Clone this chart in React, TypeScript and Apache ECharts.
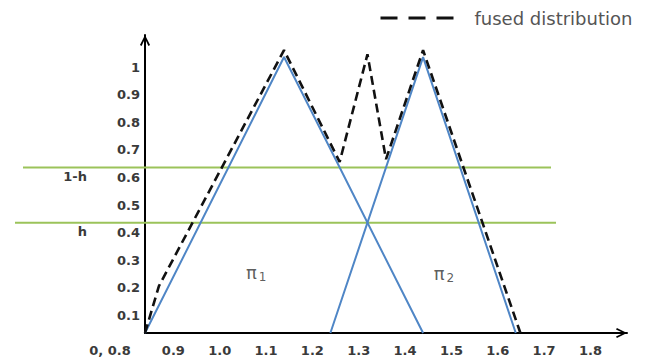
import React, { useEffect, useRef } from 'react';
import * as echarts from 'echarts';

// ---- data ----
const pi1X = [0.8, 1.1, 1.4];
const pi1Y = [0, 1, 0];
const pi2X = [1.2, 1.4, 1.6];
const pi2Y = [0, 1, 0];
const fusedX = [0.8, 0.83, 1.1, 1.22, 1.28, 1.32, 1.4, 1.61];
const fusedY = [0, 0.17, 1.025, 0.62, 1.01, 0.63, 1.025, 0];
const levelValues = [0.6, 0.4];
const levelNames = ['1-h', 'h'];
const xMin = 0.8;
const xMax = 1.84;
const xStep = 0.1;
const xLastLabel = 1.8;
const yMin = 0;
const yMax = 1.08;
const yStep = 0.1;
const originLabel = '0, 0.8';
const legendName = 'fused distribution';
const annotationNames = ['1', '2'];
const annotationX = [1.04, 1.445];
const annotationY = [0.22, 0.215];

// ---- layout (pixels) ----
const levelSpanLeft = [23, 15];
const levelSpanRight = [551, 556];

const zip = (xs: number[], ys: number[]) => xs.map((x, i) => [x, ys[i]]);
const near = (a: number, b: number) => Math.abs(a - b) < 1e-6;

const arrowPath = 'path://M0,10 L5,0 L10,10 L8.4,10.9 L5,3.6 L1.6,10.9 Z';

const labelFont = {
  fontFamily: 'DejaVu Sans',
  fontWeight: 'bold' as const,
  fontSize: 13,
  color: '#3a3a3a',
};

export default function App() {
  const ref = useRef<HTMLDivElement>(null);
  useEffect(() => {
    if (!ref.current) return;
    const chart = echarts.init(ref.current, null, { renderer: 'svg' });
    const blue = '#4f86c6';
    const option: any = {
      animation: false,
      backgroundColor: '#ffffff',
      grid: { left: 145, right: 35, top: 35, bottom: 26, containLabel: false },
      legend: {
        data: [legendName],
        left: 374,
        top: 4,
        itemWidth: 82,
        itemHeight: 14,
        itemStyle: { opacity: 0 },
        lineStyle: { type: [17, 11], width: 3, color: '#111' },
        textStyle: { fontFamily: 'DejaVu Sans', fontSize: 18, color: '#555', padding: [0, 0, 0, 7] },
      },
      xAxis: {
        type: 'value',
        min: xMin,
        max: xMax,
        interval: xStep,
        axisLine: {
          show: true,
          lineStyle: { color: '#000', width: 2 },
          symbol: ['none', arrowPath],
          symbolSize: [12, 11],
          symbolOffset: [0, -5.5],
        },
        axisTick: { show: false },
        splitLine: { show: false },
        axisLabel: {
          ...labelFont,
          margin: 11,
          showMaxLabel: false,
          padding: [0, 36, 0, 0],
          formatter: (v: number) => {
            if (near(v, xMin)) return '{o|' + originLabel + '}';
            if (v > xLastLabel + 1e-6) return '';
            return v.toFixed(1);
          },
          rich: { o: { ...labelFont, padding: [0, 34, 0, 0] } },
        },
      },
      yAxis: [
        {
          type: 'value',
          min: yMin,
          max: yMax,
          interval: yStep,
          axisLine: {
            show: true,
            lineStyle: { color: '#000', width: 2 },
            symbol: ['none', arrowPath],
            symbolSize: [12, 11],
            symbolOffset: [0, -5.5],
          },
          axisTick: { show: false },
          splitLine: { show: false },
          axisLabel: {
            ...labelFont,
            margin: 5,
            showMaxLabel: false,
            verticalAlign: 'top',
            lineHeight: 14,
            padding: [3, 0, 0, 0],
            formatter: (v: number) => {
              if (near(v, 0) || v > 1 + 1e-6) return '';
              if (near(v, 1)) return '1';
              return v.toFixed(1);
            },
          },
        },
        {
          type: 'value',
          position: 'left',
          offset: 50,
          min: yMin,
          max: yMax,
          interval: yStep,
          axisLine: { show: false },
          axisTick: { show: false },
          splitLine: { show: false },
          axisLabel: {
            ...labelFont,
            margin: 8,
            showMaxLabel: false,
            verticalAlign: 'top',
            lineHeight: 14,
            padding: [2, 0, 0, 0],
            formatter: (v: number) => {
              const i = levelValues.findIndex((l) => near(l, v));
              return i >= 0 ? levelNames[i] : '';
            },
          },
        },
      ],
      series: [
        {
          name: 'pi1',
          type: 'line',
          data: zip(pi1X, pi1Y),
          symbol: 'none',
          lineStyle: { color: blue, width: 2 },
          z: 3,
        },
        {
          name: 'pi2',
          type: 'line',
          data: zip(pi2X, pi2Y),
          symbol: 'none',
          lineStyle: { color: blue, width: 2 },
          z: 3,
        },
        {
          name: legendName,
          type: 'line',
          data: zip(fusedX, fusedY),
          symbol: 'none',
          itemStyle: { color: '#111' },
          lineStyle: { color: '#111', width: 2.6, type: [9, 5] },
          z: 4,
        },
        {
          name: 'labels',
          type: 'scatter',
          symbolSize: 0,
          data: annotationX.map((x, i) => ({ name: annotationNames[i], value: [x, annotationY[i]] })),
          label: {
            show: true,
            position: 'inside',
            formatter: (p: any) => '{p|π}{s|' + p.name + '}',
            rich: {
              p: { fontFamily: 'DejaVu Sans', fontSize: 18, color: '#333', lineHeight: 22 },
              s: { fontFamily: 'DejaVu Sans', fontSize: 12, color: '#333', padding: [9, 0, 0, 2] },
            },
          },
          z: 5,
        },
      ],
    };
    chart.setOption(option);
    const ys = levelValues.map((v) => chart.convertToPixel({ yAxisIndex: 0 }, v) as number);
    chart.setOption({
      graphic: levelValues.map((_, i) => ({
        type: 'line',
        shape: { x1: levelSpanLeft[i], y1: ys[i], x2: levelSpanRight[i], y2: ys[i] },
        style: { stroke: '#9bc35a', lineWidth: 2 },
        z: 1,
      })),
    });
    return () => chart.dispose();
  }, []);
  return (
    <div
      ref={ref}
      style={{ position: 'fixed', left: 0, top: 0, width: 662, height: 359, background: '#fff' }}
    />
  );
}
